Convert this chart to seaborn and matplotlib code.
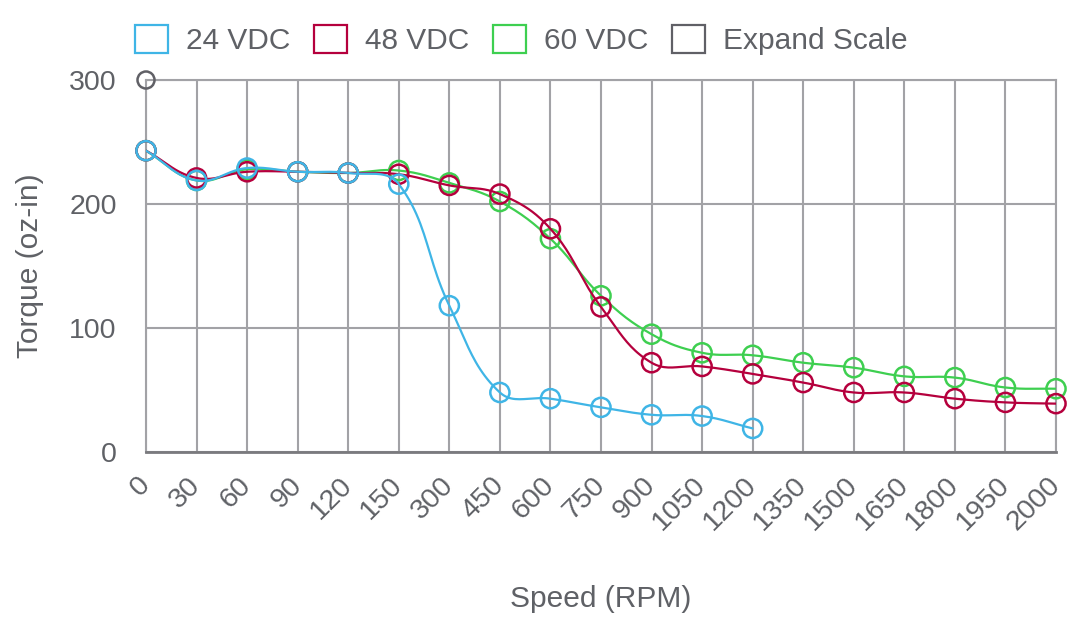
import numpy as np
import pandas as pd
import seaborn as sns
import matplotlib.pyplot as plt
from matplotlib.patches import Patch

speeds = ["0", "30", "60", "90", "120", "150", "300", "450", "600", "750", "900",
          "1050", "1200", "1350", "1500", "1650", "1800", "1950", "2000"]
vdc24 = [243, 219, 229, 226, 225, 216, 118, 48, 43, 36, 30, 29, 19]
vdc48 = [243, 221, 226, 226, 225, 224, 215, 208, 180, 117, 72, 69, 63, 56, 48, 48, 43, 40, 39]
vdc60 = [243, 219, 228, 226, 225, 227, 217, 202, 172, 126, 95, 80, 78, 72, 68, 61, 60, 52, 51]
expand = [300]

names = ["24 VDC", "48 VDC", "60 VDC", "Expand Scale"]
colors = ["#3fb5e6", "#b5003d", "#3ecf50", "#606066"]
series = [vdc24, vdc48, vdc60, expand]

sns.set_style("white")
plt.rcParams['font.family'] = ['Liberation Sans', 'DejaVu Sans']
txt = "#5f6166"
grid_c = "#a2a2a6"

fig = plt.figure(figsize=(10.72, 6.25), dpi=100)
ax = fig.add_axes([146/1072, 173/625, 910/1072, 372/625])
ax.set_xlim(0, len(speeds) - 1)
ax.set_ylim(0, 300)
fig.canvas.draw()


def spline(xs, ys, t=0.4, n=24):
    # chart.js style bezier, computed in pixel space
    pts = ax.transData.transform(np.column_stack([xs, ys]))
    m = len(pts)
    if m < 2:
        return np.array(xs, float), np.array(ys, float)
    cp_prev, cp_next = [], []
    for i in range(m):
        p0 = pts[max(i - 1, 0)]
        p1 = pts[i]
        p2 = pts[min(i + 1, m - 1)]
        d01 = np.hypot(*(p1 - p0))
        d12 = np.hypot(*(p2 - p1))
        s = d01 + d12
        s01 = d01 / s if s else 0
        s12 = d12 / s if s else 0
        cp_prev.append(p1 - t * s01 * (p2 - p0))
        cp_next.append(p1 + t * s12 * (p2 - p0))
    u = np.linspace(0, 1, n)[:, None]
    out = []
    for i in range(m - 1):
        a, b, c, d = pts[i], cp_next[i], cp_prev[i + 1], pts[i + 1]
        seg = (1-u)**3*a + 3*(1-u)**2*u*b + 3*(1-u)*u**2*c + u**3*d
        out.append(seg if i == 0 else seg[1:])
    out = ax.transData.inverted().transform(np.vstack(out))
    return out[:, 0], out[:, 1]


for k in [2, 1, 0, 3]:
    vals = series[k]
    xs = np.arange(len(vals))
    z = 10 - k * 2
    if len(vals) > 1:
        sx, sy = spline(xs, vals)
        ax.plot(sx, sy, color=colors[k], lw=1.6, zorder=z, solid_capstyle='round')
    df = pd.DataFrame({"x": xs, "y": vals})
    sns.scatterplot(data=df, x="x", y="y", ax=ax, marker="o", s=190 if k < 3 else 150,
                    color=colors[k], facecolor="none", edgecolor=colors[k],
                    linewidth=1.8, zorder=z + 1, clip_on=False)

ax.set_xticks(np.arange(len(speeds)))
ax.set_xticklabels(speeds, rotation=45, ha="right", va="center", rotation_mode="anchor")
ax.set_yticks([0, 100, 200, 300])
ax.tick_params(axis="both", length=19, width=1.5, color=grid_c, labelcolor=txt,
               labelsize=20.5, pad=2)
ax.tick_params(axis="x", pad=2)
ax.grid(True, color=grid_c, lw=1.5)
ax.set_axisbelow(True)
for s in ["left", "right", "top"]:
    ax.spines[s].set_color(grid_c)
    ax.spines[s].set_linewidth(1.5)
ax.spines["bottom"].set_color("#7a7a7e")
ax.spines["bottom"].set_linewidth(2)

ax.set_xlabel("Speed (RPM)", fontsize=21.5, color=txt, labelpad=36)
ax.set_ylabel("Torque (oz-in)", fontsize=21.5, color=txt, labelpad=18)

handles = [Patch(facecolor="white", edgecolor=c, lw=1.6, label=l) for c, l in zip(colors, names)]
fig.legend(handles=handles, loc="center", bbox_to_anchor=(521/1072, 1 - 40/625), ncol=4,
           frameon=False, fontsize=21.5, labelcolor=txt, handlelength=1.1, handleheight=1.1,
           handletextpad=0.6, columnspacing=0.8)

fig.savefig("out.png", dpi=100)
